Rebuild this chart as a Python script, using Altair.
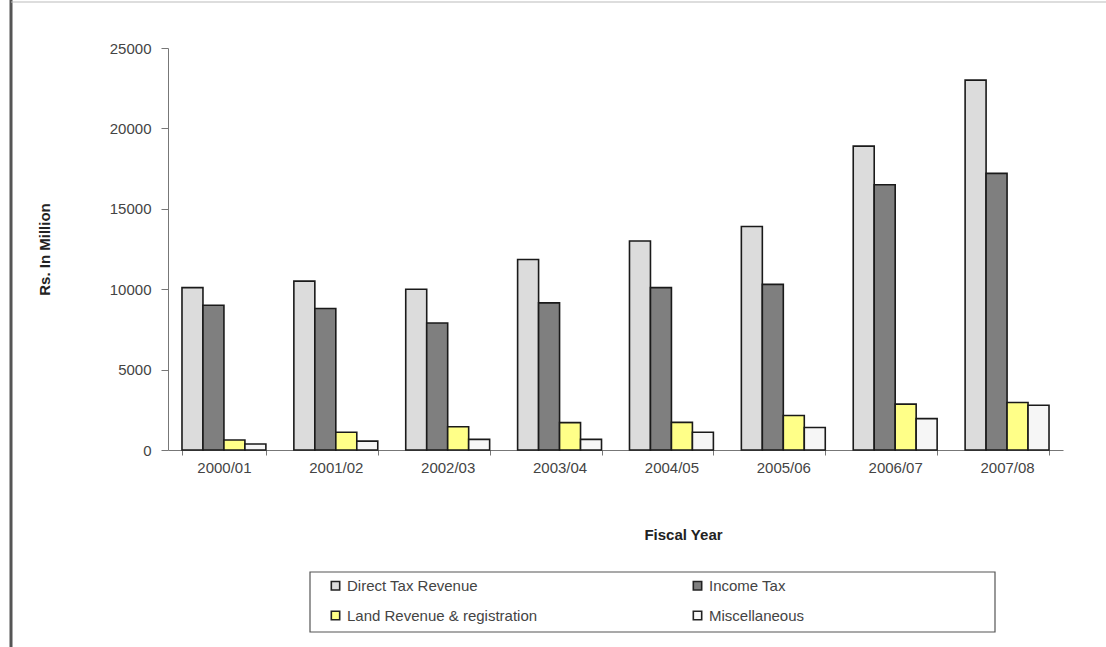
import altair as alt
import pandas as pd

years = ["2000/01", "2001/02", "2002/03", "2003/04", "2004/05", "2005/06", "2006/07", "2007/08"]
series = ["Direct Tax Revenue", "Income Tax", "Land Revenue  & registration", "Miscellaneous"]
direct_tax = [10100, 10500, 10000, 11850, 13000, 13900, 18900, 23000]
income_tax = [9000, 8800, 7900, 9150, 10100, 10300, 16500, 17200]
land_revenue = [620, 1100, 1450, 1700, 1720, 2150, 2850, 2950]
miscellaneous = [370, 550, 660, 660, 1100, 1400, 1950, 2780]

colors = ["#dcdcdc", "#7f7f7f", "#ffff88", "#f6f6f6"]
widths = [1.6, 1.6, 3, 1.6]
legend_order = [series[0], series[2], series[1], series[3]]

rows = []
for name, vals in zip(series, [direct_tax, income_tax, land_revenue, miscellaneous]):
    for y, v in zip(years, vals):
        rows.append({"year": y, "series": name, "value": v})
df = pd.DataFrame(rows)

font = "Liberation Sans"

bars = alt.Chart(df).mark_bar(stroke="#1a1a1a").encode(
    x=alt.X("year:N", sort=years,
            scale=alt.Scale(paddingInner=0.25, paddingOuter=0.125),
            axis=alt.Axis(title="Fiscal Year", labelAngle=0, labelPadding=5,
                          labelFontSize=15, labelColor="#444", labelFont=font,
                          titleFont=font, titleFontSize=15, titleFontWeight="bold",
                          titleColor="#222", titleX=515, titleY=77,
                          tickBand="extent", tickSize=5, tickColor="#777",
                          domainColor="#777", grid=False)),
    xOffset=alt.XOffset("series:N", sort=series),
    y=alt.Y("value:Q", scale=alt.Scale(domain=[0, 25000]),
            axis=alt.Axis(title="Rs. In Million", values=[0, 5000, 10000, 15000, 20000, 25000],
                          format="d",
                          labelFontSize=15, labelColor="#444", labelFont=font,
                          labelPadding=10, titleFont=font, titleFontSize=15,
                          titleFontWeight="bold", titleColor="#222", titleX=-116,
                          tickSize=7, tickColor="#777", domainColor="#777",
                          grid=False)),
    fill=alt.Fill("series:N", sort=series,
                  scale=alt.Scale(domain=series, range=colors),
                  legend=alt.Legend(title=None, orient="none", legendX=160, legendY=530,
                                    values=legend_order,
                                    columns=2, gridAlign="all", columnPadding=148,
                                    rowPadding=14, padding=0,
                                    symbolType="square", symbolSize=70,
                                    symbolStrokeColor="#222", symbolStrokeWidth=2,
                                    labelFontSize=15, labelFont=font, labelColor="#444",
                                    labelLimit=300, offset=0)),
    strokeWidth=alt.StrokeWidth("series:N", scale=alt.Scale(domain=series, range=widths),
                                legend=None),
)

legend_box = alt.Chart(alt.Data(values=[{}])).mark_rect(
    fill="white", stroke="#555", strokeWidth=1.2
).encode(
    x=alt.value(142), x2=alt.value(827), y=alt.value(524), y2=alt.value(584)
)

frame = alt.Chart(alt.Data(values=[{}])).mark_rule(color="#555", strokeWidth=3).encode(
    x=alt.value(-157), y=alt.value(-48), y2=alt.value(599)
)
top = alt.Chart(alt.Data(values=[{}])).mark_rule(color="#bbb", strokeWidth=1).encode(
    x=alt.value(-157), x2=alt.value(938), y=alt.value(-46)
)

chart = alt.layer(legend_box, bars, frame, top).properties(
    width=895, height=402,
    autosize=alt.AutoSizeParams(type="none"),
    padding={"left": 168, "top": 48, "right": 43, "bottom": 197},
    background="white",
).configure_view(stroke=None)

chart.save("out.html", embed_options={"renderer": "svg", "actions": False})
